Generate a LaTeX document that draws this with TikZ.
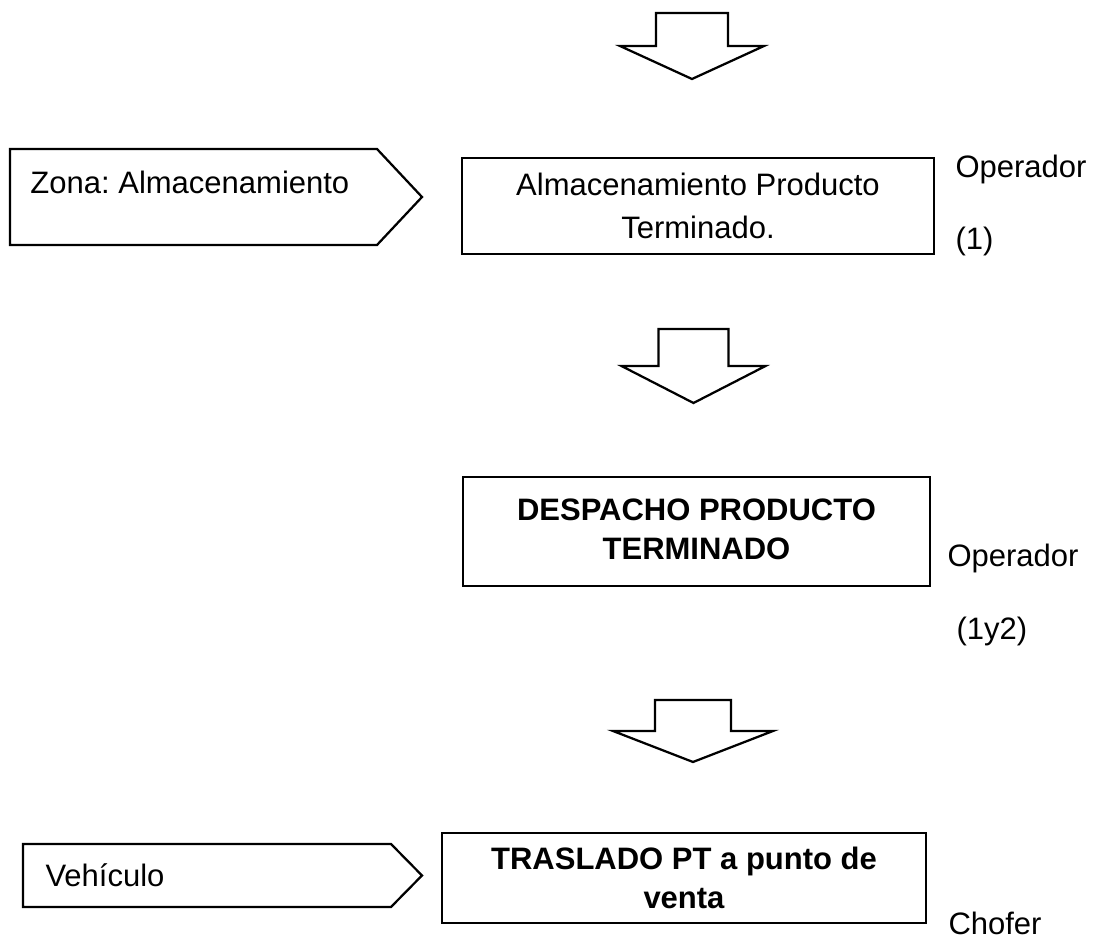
\documentclass[tikz,border=0pt]{standalone}
\usepackage{fontspec}
\setmainfont{Liberation Sans}
\frenchspacing

\begin{document}
\begin{tikzpicture}[
    x=0.4pt, y=-0.4pt,
    every node/.style={font=\fontsize{12.4}{15.5}\selectfont},
    stagebox/.style={rectangle, draw=black, line width=0.9pt, align=center, inner sep=0pt},
    zonetag/.style={draw=black, line width=0.9pt, line join=miter},
    flowarrow/.style={draw=black, fill=white, line width=0.9pt, line join=miter},
    tagtext/.style={anchor=base west, inner sep=0pt},
    who/.style={anchor=base west, inner sep=0pt}
]
\useasboundingbox (0,0) rectangle (1096,938);

% block arrows: centre x / top / stem half width / head half width / stem / head
\foreach \cx/\ty/\sw/\hw/\sh/\hh in {692/13/36/72/33/33, 693.5/329/35/72/37/37, 693/700/38/80/31/31}
    \draw[flowarrow] (\cx-\sw,\ty) -- (\cx+\sw,\ty) -- (\cx+\sw,\ty+\sh) -- (\cx+\hw,\ty+\sh)
        -- (\cx,\ty+\sh+\hh) -- (\cx-\hw,\ty+\sh) -- (\cx-\sw,\ty+\sh) -- cycle;

% zone tags
\draw[zonetag] (10,149) -- (377,149) -- (422,197) -- (377,245) -- (10,245) -- cycle;
\node[tagtext] (zona) at (30,194) {Zona: Almacenamiento};

\draw[zonetag] (23,844) -- (391,844) -- (422,875.5) -- (391,907) -- (23,907) -- cycle;
\node[tagtext] (vehiculo) at (45,887) {Vehículo};

% stages
\node[stagebox, minimum width=188.8pt, minimum height=38.4pt] (almacen) at (698,206)
    {Almacenamiento Producto\\[1.5pt] Terminado.};
\node[stagebox, minimum width=186.8pt, minimum height=43.6pt, text depth=1.6pt,
    font=\fontsize{12.4}{15.5}\selectfont\bfseries] (despacho) at (696.5,531.5)
    {DESPACHO PRODUCTO\\ TERMINADO};
\node[stagebox, minimum width=193.6pt, minimum height=36pt,
    font=\fontsize{12.4}{15.5}\selectfont\bfseries] (traslado) at (684,878)
    {TRASLADO PT a punto de\\ venta};

% who does it
\node[who] (op1) at (955,178) {Operador};
\node[who] (n1) at (955,250) {(1)};
\node[who] (op2) at (947,567) {Operador};
\node[who] (n12) at (956,640) {(1y2)};
\node[who] (chofer) at (948,935) {Chofer};

\end{tikzpicture}
\end{document}
